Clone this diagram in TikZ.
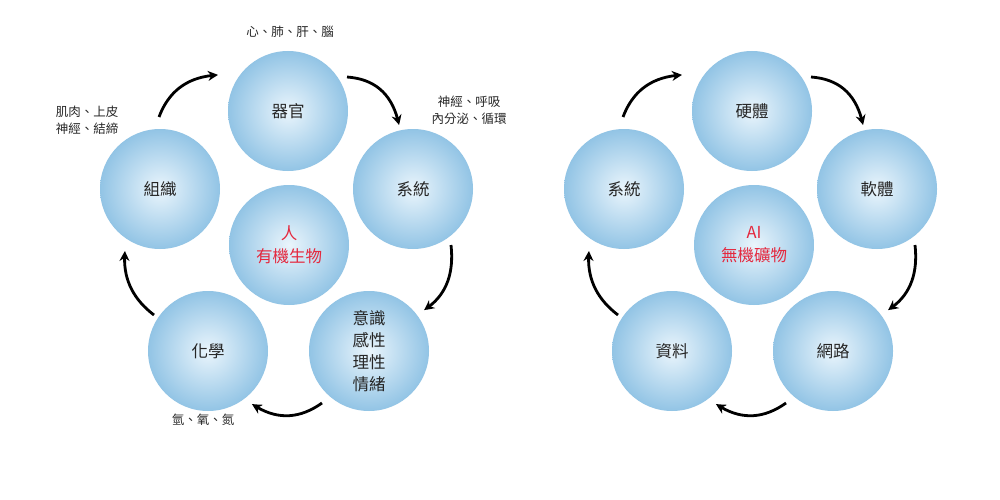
\documentclass[tikz,border=0pt]{standalone}
\usepackage{fontspec}
\setmainfont{Noto Sans CJK TC}
\usetikzlibrary{arrows.meta,calc,bending}
\definecolor{ballin}{RGB}{234,245,252}
\definecolor{ballout}{RGB}{146,196,229}
\definecolor{redtxt}{RGB}{228,40,62}
\tikzset{
  ball/.style={circle, minimum size=120pt, inner sep=0pt, shading=radial,
    inner color=ballin, outer color=ballout, align=center,
    font=\fontsize{16.5}{22}\selectfont, text=black!85},
  core/.style={ball, text=redtxt, font=\fontsize{16.5}{23}\selectfont},
  note/.style={align=center, inner sep=0pt, font=\fontsize{12.5}{17}\selectfont, text=black!85},
  arr/.style={line width=2.8pt, -{Stealth[length=10pt,width=10pt,bend]}}
}
\newcommand{\qarrow}[3]{\draw[arr] (#1) .. controls ($(#1)!0.667!(#2)$) and ($(#3)!0.667!(#2)$) .. (#3);}
\begin{document}
\begin{tikzpicture}[x=1pt,y=-1pt]
\useasboundingbox[fill=white] (0,0) rectangle (1000,500);
% left group
\node[ball] (qg) at (288,111) {器官};
\node[ball] (xt) at (413,189) {系統};
\node[ball] (zz) at (160,189) {組織};
\node[core] (ren) at (289,245) {人\\有機生物};
\node[ball] (hx) at (208,351) {化學};
\node[ball] (ys) at (369,351) {意識\\感性\\理性\\情緒};
\node[note] (n1) at (290,32) {心、肺、肝、腦};
\node[note] (n2) at (87,120) {肌肉、上皮\\神經、結締};
\node[note] (n3) at (469,110) {神經、呼吸\\內分泌、循環};
\node[note] (n4) at (203,420) {氫、氧、氮};
\coordinate (l1s) at (159,117); \coordinate (l1c) at (174,77); \coordinate (l1e) at (218,75);
\coordinate (l2s) at (347,77);  \coordinate (l2c) at (390,80); \coordinate (l2e) at (399,125);
\coordinate (l3s) at (451,245); \coordinate (l3c) at (456,290); \coordinate (l3e) at (424,310);
\coordinate (l4s) at (322,403); \coordinate (l4c) at (287,428); \coordinate (l4e) at (252,404);
\coordinate (l5s) at (154,315); \coordinate (l5c) at (121,290); \coordinate (l5e) at (125,251);
\qarrow{l1s}{l1c}{l1e}
\qarrow{l2s}{l2c}{l2e}
\qarrow{l3s}{l3c}{l3e}
\qarrow{l4s}{l4c}{l4e}
\qarrow{l5s}{l5c}{l5e}
% right group
\node[ball] (yt) at (752,111) {硬體};
\node[ball] (rt) at (877,189) {軟體};
\node[ball] (xt2) at (624,189) {系統};
\node[core] (ai) at (754,245) {AI\\無機礦物};
\node[ball] (zl) at (672,351) {資料};
\node[ball] (wl) at (833,351) {網路};
\coordinate (r1s) at (623,117); \coordinate (r1c) at (638,77); \coordinate (r1e) at (682,75);
\coordinate (r2s) at (811,77);  \coordinate (r2c) at (854,80); \coordinate (r2e) at (863,125);
\coordinate (r3s) at (915,245); \coordinate (r3c) at (920,290); \coordinate (r3e) at (888,310);
\coordinate (r4s) at (786,403); \coordinate (r4c) at (751,428); \coordinate (r4e) at (716,404);
\coordinate (r5s) at (618,315); \coordinate (r5c) at (585,290); \coordinate (r5e) at (589,251);
\qarrow{r1s}{r1c}{r1e}
\qarrow{r2s}{r2c}{r2e}
\qarrow{r3s}{r3c}{r3e}
\qarrow{r4s}{r4c}{r4e}
\qarrow{r5s}{r5c}{r5e}
\end{tikzpicture}
\end{document}
